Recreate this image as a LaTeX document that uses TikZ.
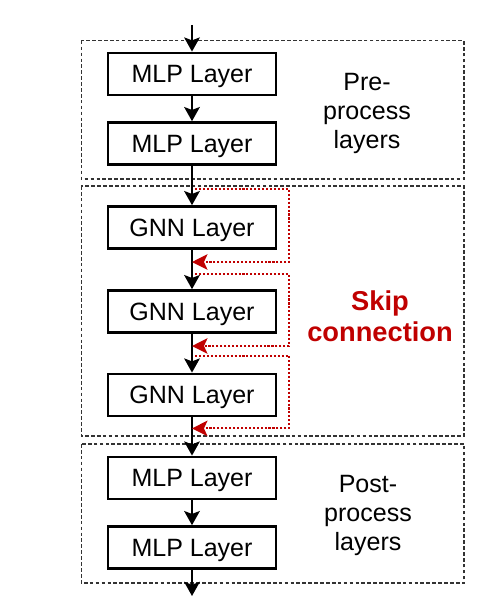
\documentclass[tikz,border=0pt]{standalone}
\usepackage{fontspec}
\setmainfont{Liberation Sans}
\usetikzlibrary{arrows.meta, positioning, calc}
\usepackage{xcolor}
\definecolor{skipred}{HTML}{C00000}
\definecolor{groupgray}{HTML}{333333}

\begin{document}
\begin{tikzpicture}[
    layer/.style={
        rectangle,
        minimum width=4.2cm,
        minimum height=1.05cm,
        draw=black,
        line width=2pt,
        fill=white,
        text depth=0pt,
        font=\fontsize{17.8}{20}\selectfont
    },
    group/.style={
        draw=groupgray,
        line width=0.8pt,
        dash pattern=on 2.6pt off 1.6pt
    },
    caption/.style={
        align=center,
        font=\fontsize{17.8}{20.5}\selectfont
    },
    flow/.style={
        -{Stealth[length=10pt, width=11pt, inset=2pt]},
        line width=1.9pt
    },
    skip/.style={
        -{Stealth[length=11pt, width=11pt, inset=2.5pt]},
        skipred,
        line width=1.5pt,
        dash pattern=on 1.5pt off 1.3pt
    }
]

\useasboundingbox (0,0) rectangle (12.3,-14.9);

% Group frames
\draw[group] (2.03,-1.02) rectangle (11.6,-4.475);
\draw[group] (2.03,-4.65) rectangle (11.6,-10.9);
\draw[group] (2.03,-11.1) rectangle (11.6,-14.575);

% Layers
\node[layer] (mlp1) at (4.8,-1.85) {MLP Layer};
\node[layer] (mlp2) at (4.8,-3.59) {MLP Layer};
\node[layer] (gnn1) at (4.8,-5.69) {GNN Layer};
\node[layer] (gnn2) at (4.8,-7.79) {GNN Layer};
\node[layer] (gnn3) at (4.8,-9.875) {GNN Layer};
\node[layer] (mlp3) at (4.8,-11.95) {MLP Layer};
\node[layer] (mlp4) at (4.8,-13.69) {MLP Layer};

% Input and output ends
\coordinate (input) at (4.8,-0.625);
\coordinate (output) at (4.8,-14.9);

% Main flow
\draw[flow] (input) -- (mlp1);
\draw[flow] (mlp1) -- (mlp2);
\draw[flow] (mlp2) -- (gnn1);
\draw[flow] (gnn1) -- (gnn2);
\draw[flow] (gnn2) -- (gnn3);
\draw[flow] (gnn3) -- (mlp3);
\draw[flow] (mlp3) -- (mlp4);
\draw[flow] (mlp4) -- (output);

% Skip connections
\coordinate (skipx) at (7.225,0);
\coordinate (in1) at ($(gnn1.north)+(0.08,0.4)$);
\coordinate (out1) at ($(gnn1.south)+(0,-0.3)$);
\coordinate (in2) at ($(gnn2.north)+(0.08,0.375)$);
\coordinate (out2) at ($(gnn2.south)+(0,-0.3)$);
\coordinate (in3) at ($(gnn3.north)+(0.08,0.425)$);
\coordinate (out3) at ($(gnn3.south)+(0,-0.275)$);
\draw[skip] (in1) -- (in1 -| skipx) |- (out1);
\draw[skip] (in2) -- (in2 -| skipx) |- (out2);
\draw[skip] (in3) -- (in3 -| skipx) |- (out3);

% Captions
\node[caption] (pre) at (9.175,-2.83) {Pre-\\process\\layers};
\node[caption, skipred, font=\fontsize{19.4}{22}\selectfont\bfseries] (skiplabel) at (9.5,-7.9) {Skip\\connection};
\node[caption] (post) at (9.2,-12.89) {Post-\\process\\layers};

\end{tikzpicture}
\end{document}
